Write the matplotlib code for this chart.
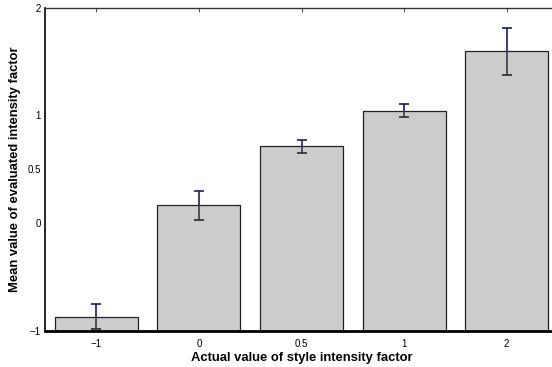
import matplotlib
matplotlib.use("Agg")
import matplotlib.pyplot as plt
import numpy as np

plt.rcParams['font.family'] = ['Liberation Sans', 'DejaVu Sans']

categories = ['\u22121', '0', '0.5', '1', '2']
means = [-0.866, 0.164, 0.712, 1.043, 1.593]
errors = [0.112, 0.13, 0.061, 0.058, 0.22]
ytick_vals = [-1, 0, 0.5, 1, 2]
ytick_labels = ['\u22121', '0', '0.5', '1', '2']

fig = plt.figure(figsize=(5.52, 3.67), dpi=100)
W, H = 552, 367
left, right, top, bottom = 45, 558, 7.5, 331
ax = fig.add_axes([left / W, 1 - bottom / H, (right - left) / W, (bottom - top) / H])

x = np.arange(1, len(categories) + 1)
m = np.array(means)
e = np.array(errors)
base = -1
ax.bar(x, m - base, bottom=base, width=0.81, color='#cccccc', edgecolor='#222222',
       linewidth=0.9, zorder=2)
# upper half of error bars (blue), lower half (dark gray)
ax.vlines(x, m, m + e, colors='#1a1a6e', linewidth=1.2, zorder=3)
ax.vlines(x, m - e, m, colors='#3a3a3a', linewidth=1.2, zorder=3)
ax.plot(x, m + e, ls='none', marker='_', markersize=6.5, mew=1.2, color='#1a1a6e', zorder=3)
ax.plot(x, m - e, ls='none', marker='_', markersize=6.5, mew=1.2, color='#2a2a2a', zorder=3)

ax.set_xlim(0.5, 5.5)
ax.set_ylim(-1, 2)
ax.set_yticks(ytick_vals)
ax.set_yticklabels(ytick_labels)
ax.set_xticks(x)
ax.set_xticklabels(categories)
ax.tick_params(axis='y', length=0, labelsize=7, pad=3)
ax.tick_params(axis='x', length=0, labelsize=7, pad=6)
ax.tick_params(axis='x', top=True, direction='in', length=3, width=0.8,
               color='#555555', labeltop=False, which='major')
ax.xaxis.set_tick_params(bottom=False)

ax.spines['bottom'].set_linewidth(2)
ax.spines['bottom'].set_color('black')
ax.spines['left'].set_linewidth(1.2)
ax.spines['left'].set_color('black')
ax.spines['top'].set_linewidth(1)
ax.spines['top'].set_color('#333333')
ax.spines['right'].set_visible(False)

ax.set_xlabel('Actual value of style intensity factor', fontsize=9.4, fontweight='bold',
              labelpad=2)
ax.set_ylabel('Mean value of evaluated intensity factor', fontsize=9.4, fontweight='bold',
              labelpad=5)

fig.savefig('out.png', dpi=100)
